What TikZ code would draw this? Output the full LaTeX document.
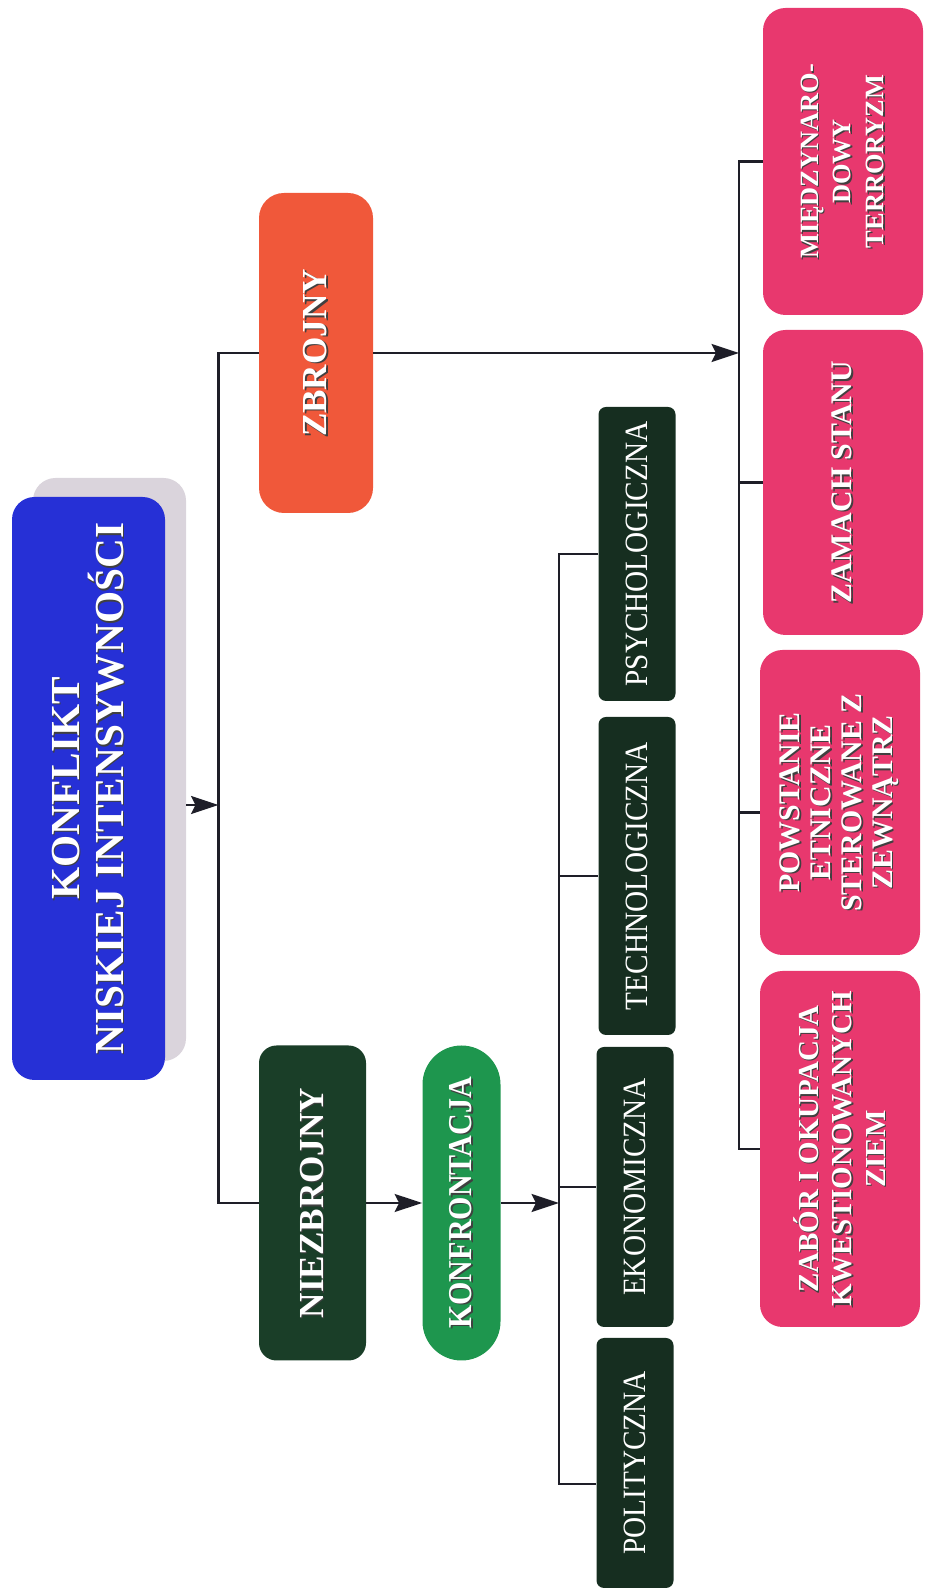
\documentclass[tikz,border=0pt]{standalone}
\usepackage{fontspec}
\setmainfont{Liberation Serif}
\newfontfamily\condfont[FakeStretch=0.9]{Liberation Serif}
\usetikzlibrary{arrows.meta,backgrounds}
\definecolor{konc}{RGB}{38,48,214}
\definecolor{shc}{RGB}{218,212,220}
\definecolor{zbrc}{RGB}{240,88,58}
\definecolor{niezc}{RGB}{26,62,40}
\definecolor{formc}{RGB}{22,46,32}
\definecolor{konfc}{RGB}{30,150,78}
\definecolor{pinkc}{RGB}{232,56,110}
\definecolor{linec}{RGB}{30,30,40}
% white letters with a dark drop shadow
\newcommand\shd[1]{\rlap{\textcolor{black!75}{\kern-0.7pt\raisebox{-0.9pt}{#1}}}#1}

\begin{document}
\begin{tikzpicture}[>={Stealth[length=5.5mm,width=3.6mm,inset=0.9mm]},
  box/.style={rotate=90,text=white,align=center,inner sep=2pt},
  kon/.style={box,fill=konc,rounded corners=0.45cm,minimum width=11.66cm,minimum height=3.06cm,
              font=\fontsize{23.5}{25}\selectfont\bfseries},
  zbr/.style={box,fill=zbrc,rounded corners=0.5cm,minimum width=6.4cm,minimum height=2.28cm,
              font=\fontsize{20}{22}\selectfont\bfseries},
  niez/.style={box,fill=niezc,rounded corners=0.35cm,minimum width=6.3cm,minimum height=2.14cm,
              font=\fontsize{20}{22}\selectfont\bfseries},
  konf/.style={box,fill=konfc,rounded corners=0.78cm,minimum width=6.3cm,minimum height=1.56cm,
              font=\condfont\fontsize{19}{21}\selectfont\bfseries},
  form/.style={box,fill=formc,rounded corners=0.15cm,minimum height=1.54cm,
              font=\condfont\fontsize{18.5}{20}\selectfont},
  pink/.style={box,fill=pinkc,rounded corners=0.45cm,minimum width=6.1cm,minimum height=3.2cm,
              font=\fontsize{17}{18}\selectfont\bfseries},
  ln/.style={draw=linec,line width=1.2pt}]

\useasboundingbox (0,0) rectangle (18.5,31.86);

%============================== root ==============================
\node[kon] (kon) at (1.77,16.09) {\shd{KONFLIKT}\\\shd{NISKIEJ INTENSYWNOŚCI}};
\begin{scope}[on background layer]
\node[kon,fill=shc] (konsh) at ([shift={(0.42,0.38)}]kon.center) {};
\end{scope}

%============================== level 1 ==============================
\node[zbr] (zbr) at (6.32,24.8) {\shd{ZBROJNY}};
\node[niez] (niez) at (6.25,7.8) {\shd{NIEZBROJNY}};
\node[konf] (konf) at (9.23,7.8) {\shd{KONFRONTACJA}};

\coordinate (s1) at (4.37,15.76);
\draw[ln] (zbr.north) -| (s1) |- (niez.north);
\draw[ln,->] (konsh.south |- s1) -- (s1);
\draw[ln,->] (niez.south) -- (konf.north);

%============================== forms of confrontation ==============================
\node[form,minimum width=5.88cm] (psy) at (12.74,20.78) {PSYCHOLOGICZNA};
\node[form,minimum width=6.36cm] (tech) at (12.74,14.34) {TECHNOLOGICZNA};
\node[form,minimum width=5.6cm] (ekon) at (12.7,8.12) {EKONOMICZNA};
\node[form,minimum width=5.0cm] (pol) at (12.7,2.6) {POLITYCZNA};

\coordinate (s2) at (11.18,7.8);
\draw[ln,->] (konf.south) -- (s2);
\foreach \o in {psy,tech,ekon}{\draw[ln] (\o.north) -| (s2);}
\draw[ln] ([yshift=-0.42cm]pol.north) -| (s2);

%============================== armed conflict ==============================
\node[pink,font=\fontsize{15}{18.6}\selectfont\bfseries,minimum width=6.14cm] (mie) at (16.86,28.63)
  {\shd{MIĘDZYNARO-}\\\shd{DOWY}\\\shd{TERRORYZM}};
\node[pink] (zam) at (16.86,22.21) {\shd{ZAMACH STANU}};
\node[pink,font=\fontsize{17}{17.6}\selectfont\bfseries] (pow) at (16.8,15.81)
  {\shd{POWSTANIE}\\\shd{ETNICZNE}\\\shd{STEROWANE Z}\\\shd{ZEWNĄTRZ}};
\node[pink,font=\fontsize{16.5}{19}\selectfont\bfseries,minimum width=7.12cm] (zab) at (16.8,8.88)
  {\shd{ZABÓR I OKUPACJA}\\\shd{KWESTIONOWANYCH}\\\shd{ZIEM}};

\coordinate (s3) at (14.78,24.8);
\draw[ln,->] (zbr.south) -- (s3);
\foreach \o in {mie,zam,zab}{\draw[ln] (\o.north) -| (s3);}
\draw[ln] ([yshift=-0.2cm]pow.north) -| (s3);

\end{tikzpicture}
\end{document}
